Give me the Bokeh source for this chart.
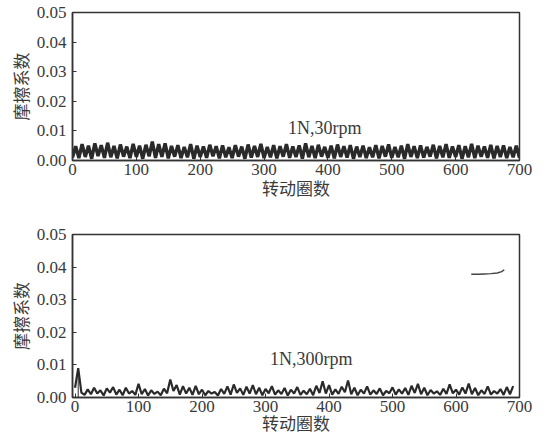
import numpy as np
from bokeh.plotting import figure
from bokeh.layouts import column
from bokeh.models import Range1d, FixedTicker, NumeralTickFormatter, Label
from bokeh.embed import file_html
from bokeh.resources import INLINE

# ---- data ----
top_step = 5
top_cof = [
    0.0010, 0.0048, 0.0008, 0.0055, 0.0012, 0.0050, 0.0006, 0.0058, 0.0015, 0.0052,
    0.0009, 0.0060, 0.0011, 0.0049, 0.0007, 0.0054, 0.0013, 0.0047, 0.0008, 0.0056,
    0.0012, 0.0050, 0.0006, 0.0053, 0.0014, 0.0064, 0.0009, 0.0055, 0.0012, 0.0058,
    0.0007, 0.0049, 0.0013, 0.0052, 0.0008, 0.0046, 0.0011, 0.0055, 0.0006, 0.0050,
    0.0012, 0.0047, 0.0009, 0.0053, 0.0014, 0.0048, 0.0007, 0.0051, 0.0011, 0.0045,
    0.0008, 0.0052, 0.0013, 0.0047, 0.0006, 0.0054, 0.0010, 0.0049, 0.0012, 0.0056,
    0.0008, 0.0046, 0.0011, 0.0052, 0.0007, 0.0048, 0.0013, 0.0055, 0.0009, 0.0047,
    0.0012, 0.0051, 0.0006, 0.0058, 0.0011, 0.0049, 0.0008, 0.0053, 0.0013, 0.0046,
    0.0009, 0.0050, 0.0007, 0.0054, 0.0012, 0.0048, 0.0010, 0.0052, 0.0006, 0.0047,
    0.0012, 0.0050, 0.0008, 0.0045, 0.0011, 0.0052, 0.0007, 0.0049, 0.0013, 0.0054,
    0.0009, 0.0046, 0.0011, 0.0050, 0.0006, 0.0055, 0.0012, 0.0048, 0.0008, 0.0051,
    0.0010, 0.0046, 0.0013, 0.0053, 0.0007, 0.0049, 0.0011, 0.0055, 0.0009, 0.0047,
    0.0012, 0.0052, 0.0006, 0.0048, 0.0011, 0.0056, 0.0008, 0.0050, 0.0013, 0.0047,
    0.0009, 0.0053, 0.0007, 0.0049, 0.0012, 0.0051, 0.0008, 0.0046, 0.0011, 0.0050,
    0.0009,
]

bot_step = 5
bot_cof = [
    0.0030, 0.0090, 0.0015, 0.0008, 0.0025, 0.0010, 0.0030, 0.0012, 0.0022, 0.0006,
    0.0028, 0.0015, 0.0032, 0.0009, 0.0024, 0.0007, 0.0030, 0.0012, 0.0020, 0.0008,
    0.0042, 0.0010, 0.0026, 0.0006, 0.0022, 0.0011, 0.0018, 0.0007, 0.0027, 0.0013,
    0.0055, 0.0020, 0.0038, 0.0009, 0.0035, 0.0012, 0.0030, 0.0008, 0.0036, 0.0010,
    0.0024, 0.0007, 0.0020, 0.0012, 0.0017, 0.0006, 0.0026, 0.0011, 0.0034, 0.0009,
    0.0040, 0.0014, 0.0028, 0.0008, 0.0033, 0.0012, 0.0038, 0.0010, 0.0030, 0.0007,
    0.0026, 0.0013, 0.0035, 0.0009, 0.0022, 0.0011, 0.0029, 0.0006, 0.0024, 0.0012,
    0.0032, 0.0008, 0.0021, 0.0010, 0.0027, 0.0007, 0.0036, 0.0014, 0.0050, 0.0012,
    0.0038, 0.0009, 0.0025, 0.0011, 0.0033, 0.0016, 0.0052, 0.0010, 0.0030, 0.0007,
    0.0024, 0.0012, 0.0034, 0.0009, 0.0022, 0.0011, 0.0028, 0.0007, 0.0020, 0.0013,
    0.0031, 0.0009, 0.0025, 0.0012, 0.0029, 0.0008, 0.0036, 0.0014, 0.0042, 0.0010,
    0.0030, 0.0007, 0.0023, 0.0012, 0.0019, 0.0008, 0.0027, 0.0011, 0.0040, 0.0013,
    0.0024, 0.0009, 0.0031, 0.0012, 0.0043, 0.0010, 0.0029, 0.0007, 0.0022, 0.0011,
    0.0034, 0.0009, 0.0020, 0.0012, 0.0026, 0.0008, 0.0032, 0.0010, 0.0035,
]

seg_x = [624, 635, 645, 655, 665, 672, 676]
seg_y = [0.0378, 0.0378, 0.0379, 0.0380, 0.0382, 0.0386, 0.0392]

y_ticks = [0.00, 0.01, 0.02, 0.03, 0.04, 0.05]
x_ticks = [0, 100, 200, 300, 400, 500, 600, 700]
x_label = "转动圈数"
y_label = "摩擦系数"
top_note = "1N,30rpm"
bot_note = "1N,300rpm"

SERIF = "Liberation Serif"
CJK = "Noto Sans CJK SC"
TXT = "#3a3a3a"
INK = "#2a2a2a"
W = 548


def make_fig(height, xstart, xend, bl, br, bt, bb, tick_sd, xlab_sd):
    p = figure(width=W, height=height, output_backend="svg", toolbar_location=None,
               x_range=Range1d(xstart, xend), y_range=Range1d(0, 0.05),
               min_border_left=bl, min_border_right=br,
               min_border_top=bt, min_border_bottom=bb)
    p.grid.visible = False
    p.outline_line_color = "#333333"
    p.outline_line_width = 1.5
    p.background_fill_color = "white"
    p.border_fill_color = "white"
    for ax in (p.xaxis[0], p.yaxis[0]):
        ax.axis_line_color = "#333333"
        ax.axis_line_width = 1.5
        ax.major_tick_in = 4
        ax.major_tick_out = 0
        ax.major_tick_line_color = "#333333"
        ax.minor_tick_line_color = None
        ax.major_label_text_font = SERIF
        ax.major_label_text_font_size = "17px"
        ax.major_label_text_color = TXT
        ax.axis_label_text_font = CJK
        ax.axis_label_text_font_size = "17px"
        ax.axis_label_text_font_style = "normal"
        ax.axis_label_text_color = TXT
    p.yaxis.ticker = FixedTicker(ticks=y_ticks)
    p.yaxis.formatter = NumeralTickFormatter(format="0.00")
    p.yaxis.major_label_standoff = 6
    p.yaxis.axis_label = y_label
    p.yaxis.axis_label_standoff = 1
    p.xaxis.ticker = FixedTicker(ticks=x_ticks)
    p.xaxis.major_label_standoff = tick_sd
    p.xaxis.axis_label = x_label
    p.xaxis.axis_label_standoff = xlab_sd
    return p


# ---- top panel ----
p1 = make_fig(210, 0, 700, 70, W - 527, 12, 50, 3, -3)
tx = np.arange(len(top_cof)) * top_step
p1.line(tx, top_cof, line_color=INK, line_width=3.4, line_join="bevel")
p1.add_layout(Label(x=395, y=0.0111, text=top_note, text_font=SERIF, text_font_size="18px",
                    text_color=TXT, text_align="center", text_baseline="middle"))

# ---- bottom panel ----
p2 = make_fig(227, -4, 700, 72, W - 519, 24, 40, 3, -5)
bx = np.arange(len(bot_cof)) * bot_step
p2.line(bx, bot_cof, line_color=INK, line_width=2.2, line_join="bevel")
p2.line([bx[1], bx[1]], [0, bot_cof[1]], line_color=INK, line_width=1)
p2.line(seg_x, seg_y, line_color="#444444", line_width=1.4)
p2.add_layout(Label(x=372, y=0.0117, text=bot_note, text_font=SERIF, text_font_size="18px",
                    text_color=TXT, text_align="center", text_baseline="middle"))

layout = column(p1, p2)
open("out.html", "w").write(file_html(layout, INLINE))
